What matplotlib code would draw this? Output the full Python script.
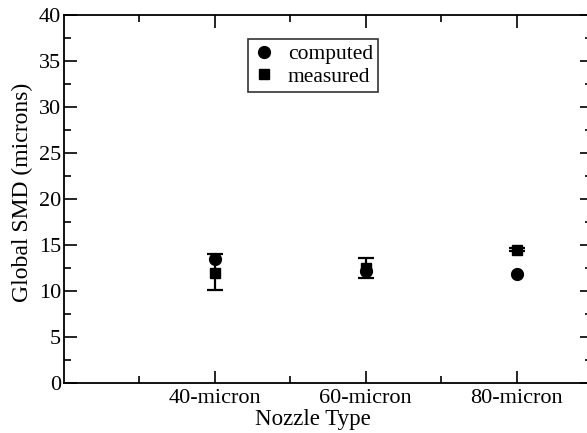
import matplotlib
matplotlib.use("Agg")
import matplotlib.pyplot as plt
from matplotlib.ticker import MultipleLocator

plt.rcParams['font.family'] = ['Liberation Serif', 'DejaVu Serif']

categories = ["40-micron", "60-micron", "80-micron"]
computed = [13.5, 12.2, 11.8]
measured = [12.0, 12.5, 14.5]
measured_err_low = [1.9, 1.1, 0.15]
measured_err_high = [2.0, 1.1, 0.15]

W, H = 587, 433
fig = plt.figure(figsize=(W / 100, H / 100), dpi=100)
ax = fig.add_axes([64 / W, 50 / H, (592 - 64) / W, (383 - 15) / H])

x = [i + 1 for i in range(len(categories))]
ax.errorbar(x, measured, yerr=[measured_err_low, measured_err_high], fmt='s',
            color='black', markersize=7, capsize=6, elinewidth=1.6,
            capthick=1.6, label='measured', zorder=2)
ax.plot(x, computed, 'o', color='black', markersize=8.5, label='computed', zorder=3)

ax.set_xlim(0, 3.5)
ax.set_ylim(0, 40)
ax.set_xticks(x)
ax.set_xticklabels(categories)
ax.set_xticks([0.5, 1.5, 2.5], minor=True)
ax.yaxis.set_major_locator(MultipleLocator(5))
ax.yaxis.set_minor_locator(MultipleLocator(2.5))

ax.tick_params(which='both', direction='in', top=True, right=True, width=1.2,
               labelsize=16)
ax.tick_params(axis='x', pad=4)
ax.tick_params(axis='y', pad=2)
ax.tick_params(which='major', length=9)
ax.tick_params(which='minor', length=5)
for s in ax.spines.values():
    s.set_linewidth(1.3)

ax.set_xlabel('Nozzle Type', fontsize=16.5)
ax.set_ylabel('Global SMD (microns)', fontsize=17)
ax.xaxis.set_label_coords(0.472, -0.072)
ax.yaxis.set_label_coords(-0.0587, 0.519)

h = [plt.Line2D([], [], marker='o', color='black', linestyle='none', markersize=8.5),
     plt.Line2D([], [], marker='s', color='black', linestyle='none', markersize=7)]
l = ['computed', 'measured']
leg = ax.legend(h, l, loc='upper left', bbox_to_anchor=(248 / W, 1 - 39 / H),
                bbox_transform=fig.transFigure, borderaxespad=0, fontsize=15.5,
                frameon=True, fancybox=False, handlelength=1.0, handletextpad=0.6,
                borderpad=0.25, labelspacing=0.1)
leg.get_frame().set_edgecolor('black')
leg.get_frame().set_linewidth(1.2)

fig.savefig('out.png', dpi=100)
